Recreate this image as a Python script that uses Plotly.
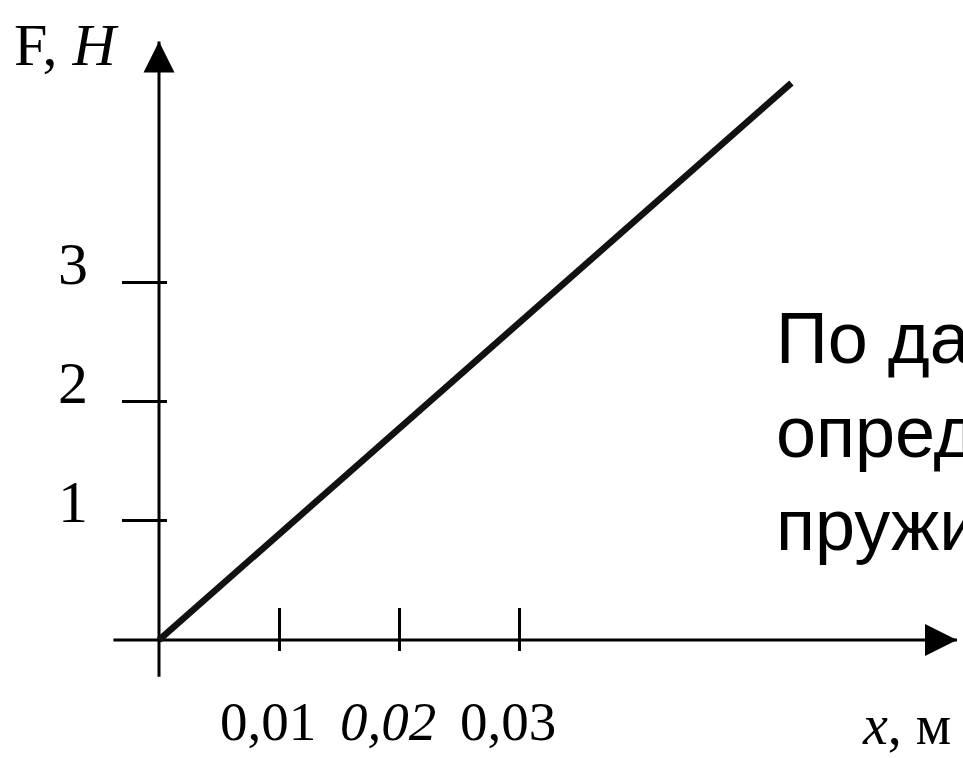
import plotly.graph_objects as go

# ---- data ----
x_m = [0.0, 0.0527]          # elongation x, m
F_N = [0.0, 4.68]            # force F, N
x_tickvals = [0.01, 0.02, 0.03]
x_ticktext = ["0,01", "<i>0,02</i>", "0,03"]
y_tickvals = [1, 2, 3]
y_ticktext = ["1", "2", "3"]

# ---- layout constants ----
W, H = 963, 758
X_RANGE = [-0.01325, 0.0670]
Y_RANGE = [-0.992, 5.378]
X_AXIS_SPAN = [-0.0038, 0.0665]
Y_AXIS_SPAN = [-0.31, 5.03]
X_POS = 159 / W               # paper position of the vertical axis
Y_POS = (H - 640) / H         # paper position of the horizontal axis
SERIF = "Liberation Serif"

fig = go.Figure()

# axis lines
fig.add_trace(go.Scatter(x=X_AXIS_SPAN, y=[0, 0], mode="lines",
                         line=dict(color="black", width=3), hoverinfo="skip"))
fig.add_trace(go.Scatter(x=[0, 0], y=Y_AXIS_SPAN, mode="lines",
                         line=dict(color="black", width=3), hoverinfo="skip"))
# arrow heads
fig.add_trace(go.Scatter(x=[X_AXIS_SPAN[1]], y=[0], mode="markers",
                         marker=dict(symbol="arrow-right", size=32, color="black",
                                     line=dict(width=0)), hoverinfo="skip"))
fig.add_trace(go.Scatter(x=[0], y=[Y_AXIS_SPAN[1]], mode="markers",
                         marker=dict(symbol="arrow-up", size=31, color="black",
                                     line=dict(width=0)), hoverinfo="skip"))
# the F(x) line
fig.add_trace(go.Scatter(x=x_m, y=F_N, mode="lines",
                         line=dict(color="#111111", width=6.5), hoverinfo="skip"))

fig.update_layout(
    width=W, height=H,
    margin=dict(l=0, r=0, t=0, b=0, autoexpand=False),
    paper_bgcolor="white", plot_bgcolor="white",
    showlegend=False,
    xaxis=dict(range=X_RANGE, anchor="free", position=Y_POS, automargin=False,
               showgrid=False, zeroline=False, showline=False,
               tickvals=x_tickvals, ticktext=x_ticktext,
               ticks="inside", ticklen=32, tickwidth=3, tickcolor="black",
               ticklabelstandoff=44, ticklabelshift=-11,
               tickfont=dict(family=SERIF, size=55, color="black")),
    xaxis2=dict(range=X_RANGE, overlaying="x", anchor="free", position=Y_POS,
                automargin=False,
                showgrid=False, zeroline=False, showline=False,
                tickvals=x_tickvals, showticklabels=False,
                ticks="outside", ticklen=10, tickwidth=3, tickcolor="black"),
    yaxis=dict(range=Y_RANGE, anchor="free", position=X_POS, automargin=False,
               showgrid=False, zeroline=False, showline=False,
               tickvals=y_tickvals, ticktext=y_ticktext,
               ticks="outside", ticklen=37, tickwidth=3, tickcolor="black",
               ticklabelstandoff=22, ticklabelshift=-20,
               tickfont=dict(family=SERIF, size=60, color="black")),
    yaxis2=dict(range=Y_RANGE, overlaying="y", anchor="free", position=X_POS,
                automargin=False,
                showgrid=False, zeroline=False, showline=False,
                tickvals=y_tickvals, showticklabels=False,
                ticks="inside", ticklen=7, tickwidth=3, tickcolor="black"),
    annotations=[
        dict(text="F, <i>Н</i>", xref="paper", yref="paper",
             x=12 / W, y=1 - 10 / H, xanchor="left", yanchor="top",
             showarrow=False, font=dict(family=SERIF, size=60, color="black")),
        dict(text="<i>x</i>, м", xref="paper", yref="paper",
             x=860 / W, y=0, xanchor="left", yanchor="bottom",
             showarrow=False, font=dict(family=SERIF, size=56, color="black")),
        dict(text="По данному графику<br>определите жесткость<br>пружины",
             xref="paper", yref="paper", x=774 / W, y=1 - 296 / H,
             xanchor="left", yanchor="top", align="left", showarrow=False,
             font=dict(family="Liberation Sans", size=72, color="black")),
    ],
)
# dummy trace to activate overlay axes
fig.add_trace(go.Scatter(x=[None], y=[None], xaxis="x2", yaxis="y2",
                         hoverinfo="skip"))

fig.write_html("out.html", config={"displayModeBar": False},
               post_script="document.body.style.margin='0';")
